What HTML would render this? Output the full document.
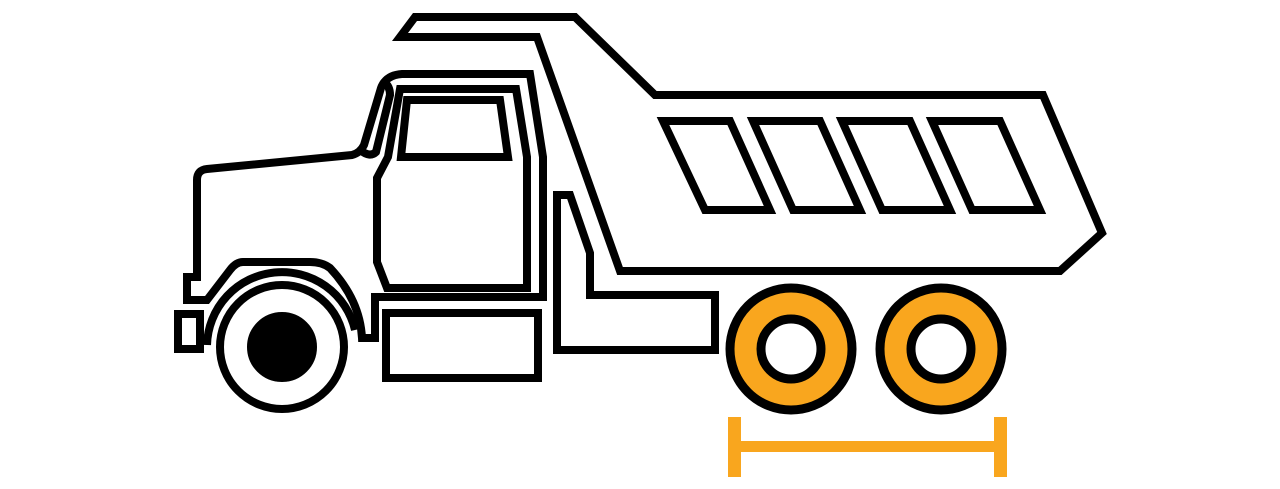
<!DOCTYPE html>
<html><head><style>html,body{margin:0;padding:0;background:#fff;}svg{display:block;}</style></head>
<body>
<svg width="1280" height="489" viewBox="0 0 1280 489" xmlns="http://www.w3.org/2000/svg">
<g fill="none" stroke="#000" stroke-width="8" stroke-linejoin="miter">
<path d="M400,37 L415,17 L575,17 L655,95 L1043,95 L1102,233 L1060,271 L620,271 L537,37 Z" fill="#fff"/>
<path d="M663,121 L730,121 L770,210 L705,210 Z"/>
<path d="M753,121 L820,121 L860,210 L793,210 Z"/>
<path d="M842,121 L910,121 L950,210 L882,210 Z"/>
<path d="M932,121 L1000,121 L1040,210 L972,210 Z"/>
<path d="M557,195 L570,195 L590,253 L590,295 L715,295 L715,350 L557,350 Z" fill="#fff"/>
<path d="M197,277 L197,180 Q197,170 207,169 L352,155 Q360,153 364,145 L381,88 Q386,75 402,74 L530,74 L543,157 L543,297 L375,297 L375,338 L362,338 Q360,300 330,268 Q322,262 310,262 L243,262 Q236,262 230,270 L207,300 L187,300 L187,277 Z" fill="#fff"/>
<path d="M360,150 Q370,158 376,152 L390,95 Q390,86 384,82"/>
<path d="M400,89 L516,89 L527,157 L527,288 L387,288 L377,262 L377,178 L388,157 Z"/>
<path d="M407,100 L500,100 L508,157 L401,157 Z"/>
<rect x="386" y="313" width="152" height="65"/>
<rect x="178" y="314" width="22" height="35" fill="#fff"/>
<path d="M207,345 A75,75 0 0 1 355,330"/>
<circle cx="282" cy="347" r="62" fill="#fff"/>
<circle cx="282" cy="347" r="31" fill="#000"/>
</g>
<g stroke="#000" stroke-width="9">
<circle cx="791" cy="349" r="61" fill="#F9A61E"/>
<circle cx="791" cy="349" r="30" fill="#fff"/>
<circle cx="941" cy="349" r="61" fill="#F9A61E"/>
<circle cx="941" cy="349" r="30" fill="#fff"/>
</g>
<g fill="#F9A61E">
<rect x="728" y="417" width="13" height="60"/>
<rect x="994" y="417" width="13" height="60"/>
<rect x="728" y="441" width="279" height="11"/>
</g>
</svg>
</body></html>
